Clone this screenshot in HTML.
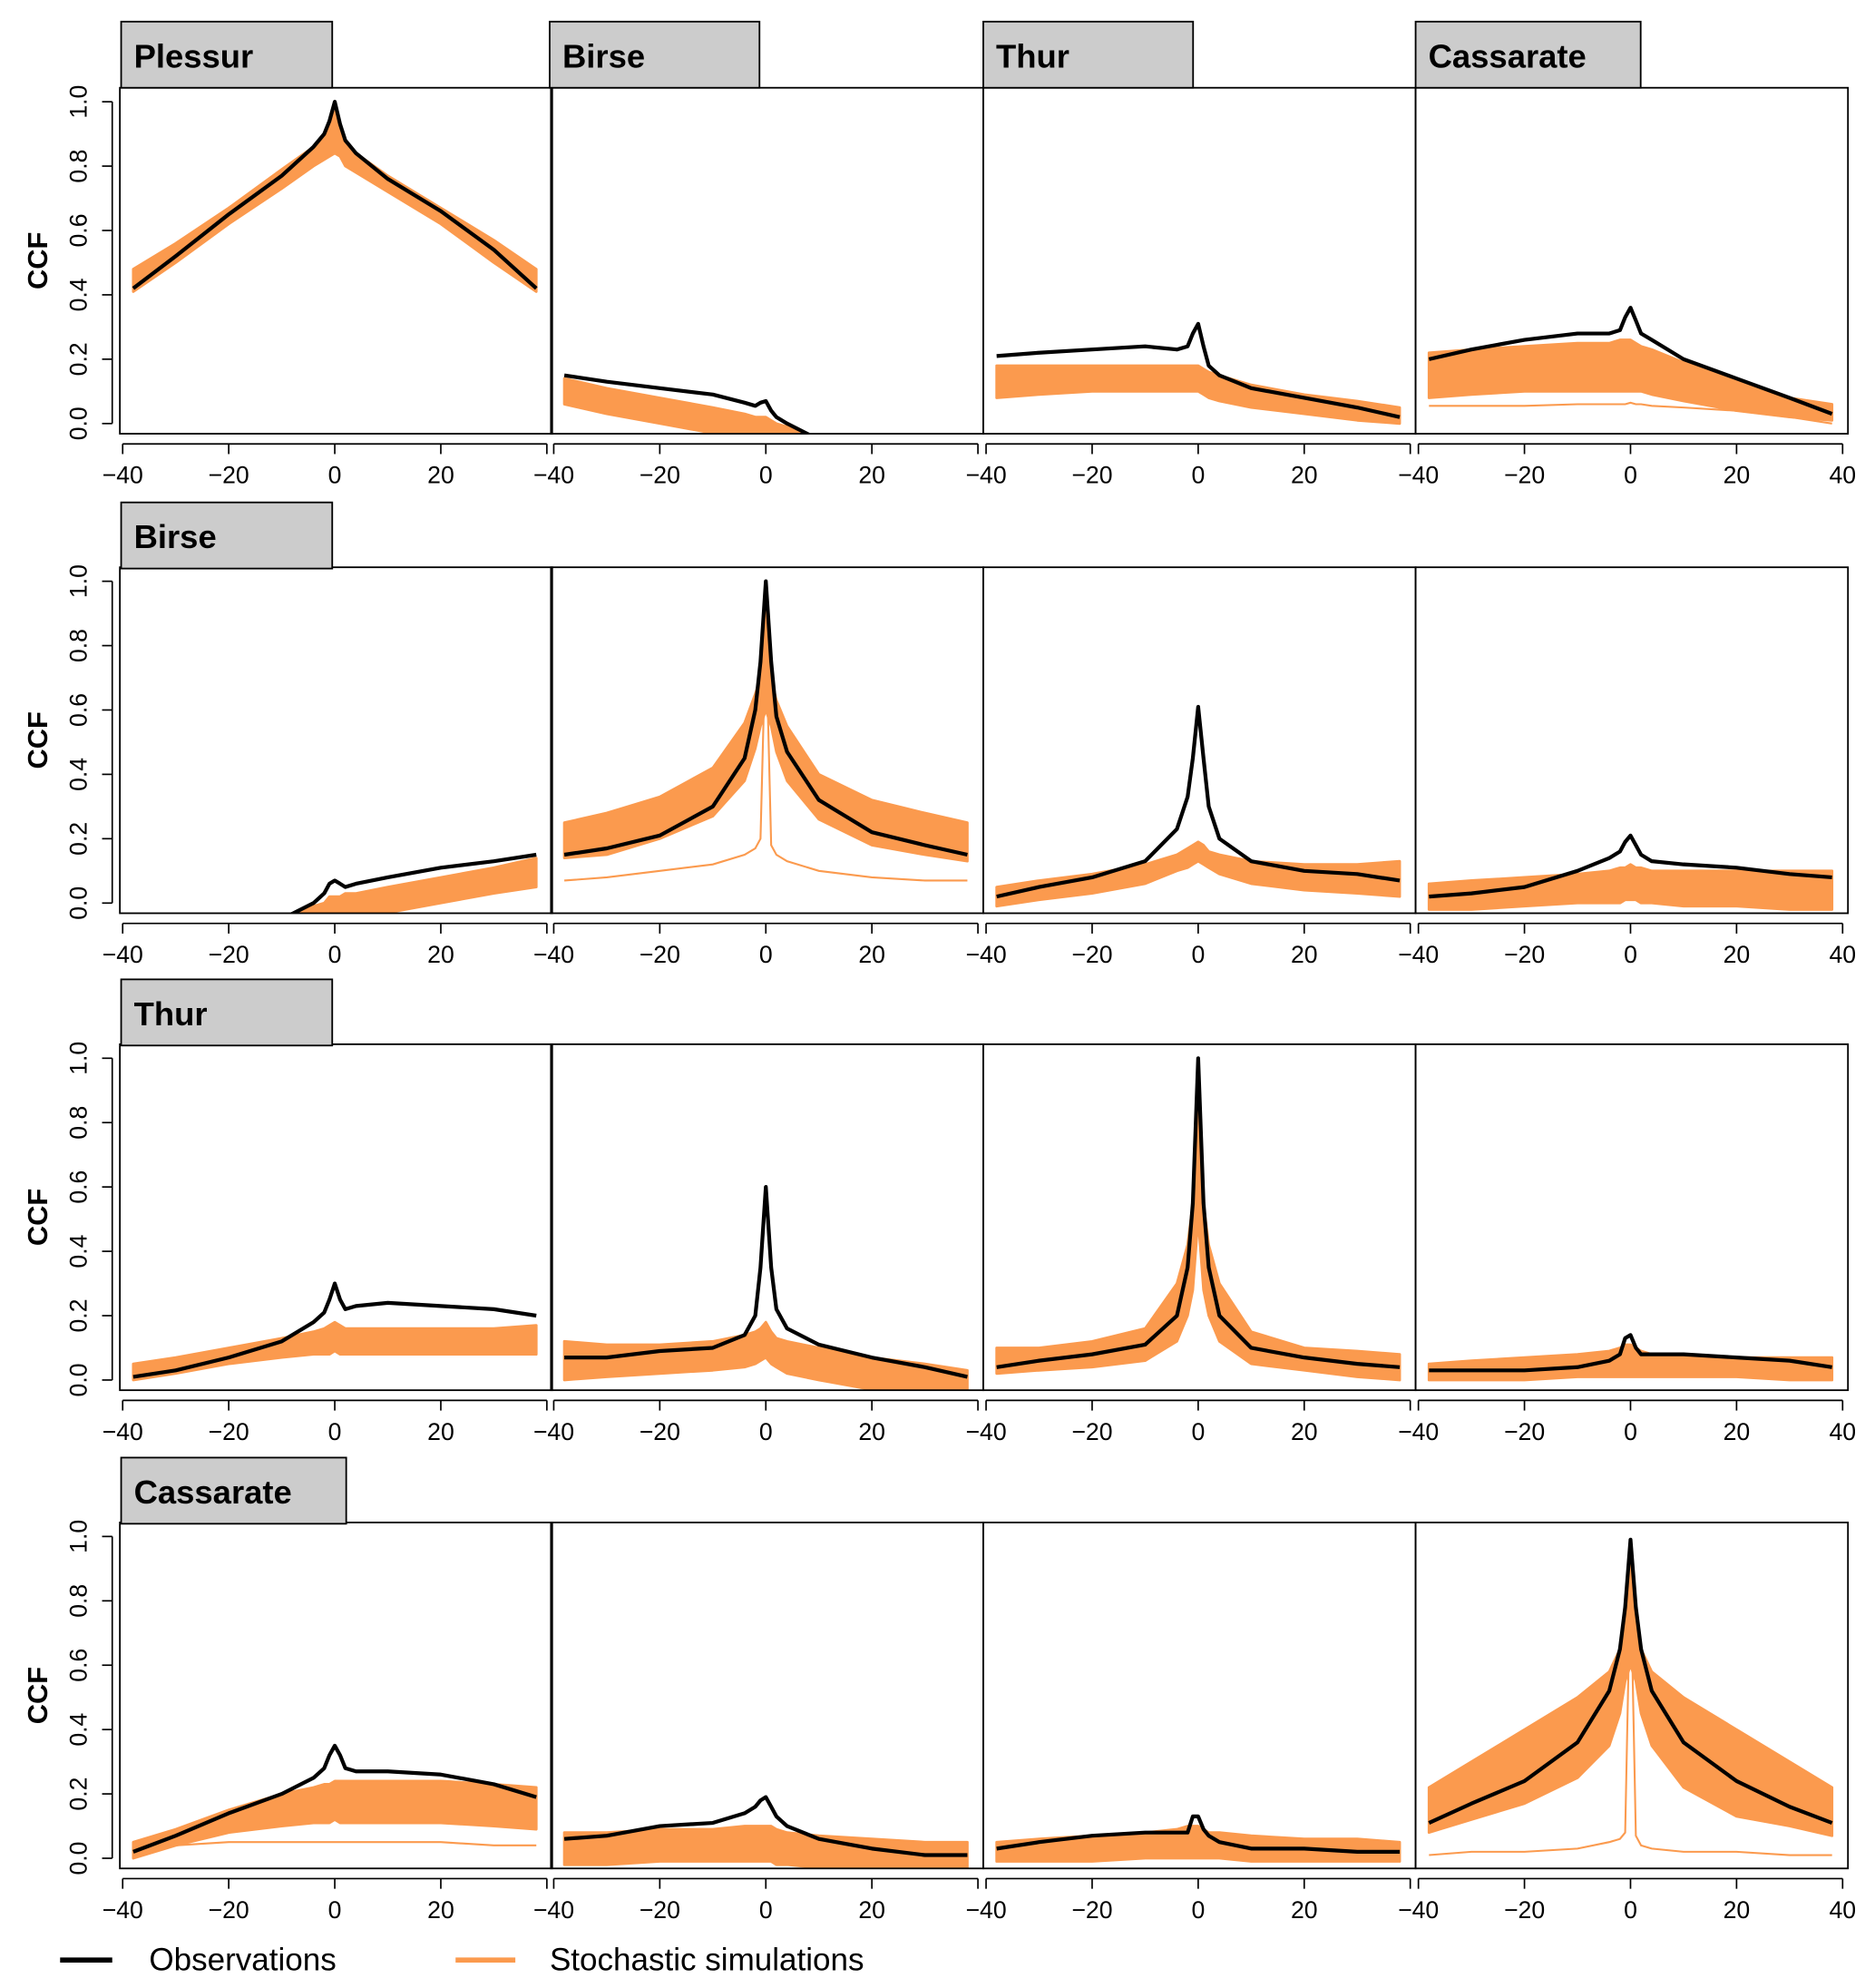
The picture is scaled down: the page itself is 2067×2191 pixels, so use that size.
<!DOCTYPE html>
<html><head><meta charset="utf-8"><style>
html,body{margin:0;padding:0;background:#fff}
svg{display:block}
text{font-family:"Liberation Sans",sans-serif}
</style></head><body>
<svg id="chart" width="2067" height="2191" viewBox="0 0 1474 1563" xmlns="http://www.w3.org/2000/svg"></svg>
<script>
const lags=[-38,-30,-20,-10,-4,-2,-1,0,1,2,4,10,20,30,38];
const stations=["Plessur","Birse","Thur","Cassarate"];
const xTicks=[-40,-20,0,20,40];
const yTicks=[0,0.2,0.4,0.6,0.8,1.0];
const yTickLabels=["0.0","0.2","0.4","0.6","0.8","1.0"];
const obs11=[0.42,0.52,0.65,0.77,0.86,0.9,0.94,1.0,0.93,0.88,0.84,0.76,0.66,0.54,0.42];
const lo11=[0.41,0.5,0.62,0.73,0.8,0.82,0.83,0.84,0.83,0.8,0.78,0.72,0.62,0.5,0.41];
const hi11=[0.48,0.56,0.67,0.79,0.86,0.9,0.93,0.97,0.93,0.88,0.84,0.77,0.67,0.57,0.48];
const obs12=[0.15,0.13,0.11,0.09,0.065,0.055,0.065,0.07,0.04,0.02,0.0,-0.05,-0.12,-0.18,-0.22];
const lo12=[0.06,0.03,0.0,-0.03,-0.05,-0.05,-0.05,-0.05,-0.06,-0.07,-0.08,-0.12,-0.18,-0.24,-0.28];
const hi12=[0.14,0.11,0.08,0.05,0.03,0.02,0.02,0.02,0.01,0.0,-0.01,-0.05,-0.1,-0.16,-0.2];
const obs13=[0.21,0.22,0.23,0.24,0.23,0.24,0.28,0.31,0.24,0.18,0.15,0.11,0.08,0.05,0.02];
const lo13=[0.08,0.09,0.1,0.1,0.1,0.1,0.1,0.1,0.09,0.08,0.07,0.05,0.03,0.01,0.0];
const hi13=[0.18,0.18,0.18,0.18,0.18,0.18,0.18,0.18,0.17,0.16,0.15,0.12,0.09,0.07,0.05];
const obs14=[0.2,0.23,0.26,0.28,0.28,0.29,0.33,0.36,0.32,0.28,0.26,0.2,0.14,0.08,0.03];
const lo14=[0.08,0.09,0.1,0.1,0.1,0.1,0.1,0.1,0.1,0.1,0.09,0.07,0.04,0.02,0.01];
const hi14=[0.22,0.23,0.24,0.25,0.25,0.26,0.26,0.26,0.25,0.24,0.23,0.19,0.13,0.08,0.06];
const out14=[0.055,0.055,0.055,0.06,0.06,0.06,0.06,0.065,0.06,0.06,0.055,0.05,0.04,0.02,0.0];
const obs21=[-0.22,-0.18,-0.12,-0.05,0.0,0.03,0.06,0.07,0.06,0.05,0.06,0.08,0.11,0.13,0.15];
const lo21=[-0.3,-0.25,-0.18,-0.12,-0.08,-0.07,-0.06,-0.06,-0.05,-0.05,-0.05,-0.03,0.0,0.03,0.05];
const hi21=[-0.2,-0.16,-0.1,-0.05,-0.01,0.0,0.02,0.02,0.02,0.03,0.03,0.05,0.08,0.11,0.14];
const obs22=[0.15,0.17,0.21,0.3,0.45,0.6,0.75,1.0,0.75,0.58,0.47,0.32,0.22,0.18,0.15];
const lo22=[0.14,0.15,0.2,0.27,0.38,0.48,0.55,0.6,0.55,0.47,0.38,0.26,0.18,0.15,0.13];
const hi22=[0.25,0.28,0.33,0.42,0.56,0.65,0.7,0.95,0.7,0.63,0.55,0.4,0.32,0.28,0.25];
const out22=[0.07,0.08,0.1,0.12,0.15,0.17,0.2,0.85,0.18,0.15,0.13,0.1,0.08,0.07,0.07];
const obs23=[0.02,0.05,0.08,0.13,0.23,0.33,0.45,0.61,0.45,0.3,0.2,0.13,0.1,0.09,0.07];
const lo23=[-0.01,0.01,0.03,0.06,0.1,0.11,0.12,0.13,0.12,0.11,0.09,0.06,0.04,0.03,0.02];
const hi23=[0.05,0.07,0.09,0.12,0.15,0.17,0.18,0.19,0.18,0.16,0.15,0.13,0.12,0.12,0.13];
const obs24=[0.02,0.03,0.05,0.1,0.14,0.16,0.19,0.21,0.18,0.15,0.13,0.12,0.11,0.09,0.08];
const lo24=[-0.02,-0.02,-0.01,0.0,0.0,0.0,0.01,0.01,0.01,0.0,0.0,-0.01,-0.01,-0.02,-0.02];
const hi24=[0.06,0.07,0.08,0.09,0.1,0.11,0.11,0.12,0.11,0.11,0.1,0.1,0.1,0.1,0.1];
const obs31=[0.01,0.03,0.07,0.12,0.18,0.21,0.25,0.3,0.25,0.22,0.23,0.24,0.23,0.22,0.2];
const lo31=[0.0,0.02,0.05,0.07,0.08,0.08,0.08,0.09,0.08,0.08,0.08,0.08,0.08,0.08,0.08];
const hi31=[0.05,0.07,0.1,0.13,0.15,0.16,0.17,0.18,0.17,0.16,0.16,0.16,0.16,0.16,0.17];
const obs32=[0.07,0.07,0.09,0.1,0.14,0.2,0.35,0.6,0.35,0.22,0.16,0.11,0.07,0.04,0.01];
const lo32=[0.0,0.01,0.02,0.03,0.04,0.05,0.06,0.07,0.05,0.04,0.02,0.0,-0.03,-0.05,-0.07];
const hi32=[0.12,0.11,0.11,0.12,0.14,0.15,0.16,0.18,0.15,0.13,0.12,0.1,0.07,0.05,0.03];
const obs33=[0.04,0.06,0.08,0.11,0.2,0.35,0.55,1.0,0.55,0.35,0.2,0.1,0.07,0.05,0.04];
const lo33=[0.02,0.03,0.04,0.06,0.12,0.2,0.28,0.5,0.28,0.2,0.12,0.05,0.03,0.01,0.0];
const hi33=[0.1,0.1,0.12,0.16,0.3,0.42,0.55,0.95,0.55,0.42,0.3,0.15,0.1,0.09,0.08];
const obs34=[0.03,0.03,0.03,0.04,0.06,0.08,0.13,0.14,0.1,0.08,0.08,0.08,0.07,0.06,0.04];
const lo34=[0.0,0.0,0.0,0.01,0.01,0.01,0.01,0.01,0.01,0.01,0.01,0.01,0.01,0.0,0.0];
const hi34=[0.05,0.06,0.07,0.08,0.09,0.1,0.11,0.11,0.1,0.09,0.08,0.08,0.07,0.07,0.07];
const obs41=[0.02,0.07,0.14,0.2,0.25,0.28,0.32,0.35,0.32,0.28,0.27,0.27,0.26,0.23,0.19];
const lo41=[0.0,0.04,0.08,0.1,0.11,0.11,0.11,0.12,0.11,0.11,0.11,0.11,0.11,0.1,0.09];
const hi41=[0.05,0.09,0.15,0.2,0.22,0.23,0.23,0.24,0.24,0.24,0.24,0.24,0.24,0.23,0.22];
const out41=[0.04,0.04,0.05,0.05,0.05,0.05,0.05,0.05,0.05,0.05,0.05,0.05,0.05,0.04,0.04];
const obs42=[0.06,0.07,0.1,0.11,0.14,0.16,0.18,0.19,0.16,0.13,0.1,0.06,0.03,0.01,0.01];
const lo42=[-0.02,-0.02,-0.01,-0.01,-0.01,-0.01,-0.01,-0.01,-0.01,-0.02,-0.02,-0.03,-0.04,-0.05,-0.05];
const hi42=[0.08,0.08,0.09,0.09,0.1,0.1,0.1,0.1,0.1,0.09,0.08,0.07,0.06,0.05,0.05];
const obs43=[0.03,0.05,0.07,0.08,0.08,0.08,0.13,0.13,0.09,0.07,0.05,0.03,0.03,0.02,0.02];
const lo43=[-0.01,-0.01,-0.01,0.0,0.0,0.0,0.0,0.0,0.0,0.0,0.0,-0.01,-0.01,-0.01,-0.01];
const hi43=[0.05,0.06,0.07,0.08,0.09,0.1,0.1,0.1,0.09,0.08,0.08,0.07,0.06,0.06,0.05];
const obs44=[0.11,0.17,0.24,0.36,0.52,0.65,0.78,0.99,0.78,0.65,0.52,0.36,0.24,0.16,0.11];
const lo44=[0.08,0.12,0.17,0.25,0.35,0.45,0.55,0.6,0.55,0.45,0.35,0.22,0.13,0.1,0.07];
const hi44=[0.22,0.3,0.4,0.5,0.58,0.65,0.72,0.92,0.72,0.65,0.58,0.5,0.4,0.3,0.22];
const out44=[0.01,0.02,0.02,0.03,0.05,0.06,0.08,0.9,0.07,0.04,0.03,0.02,0.02,0.01,0.01];

const panels=[
 [[obs11,lo11,hi11,null],[obs12,lo12,hi12,null],[obs13,lo13,hi13,null],[obs14,lo14,hi14,out14]],
 [[obs21,lo21,hi21,null],[obs22,lo22,hi22,out22],[obs23,lo23,hi23,null],[obs24,lo24,hi24,null]],
 [[obs31,lo31,hi31,null],[obs32,lo32,hi32,null],[obs33,lo33,hi33,null],[obs34,lo34,hi34,null]],
 [[obs41,lo41,hi41,out41],[obs42,lo42,hi42,null],[obs43,lo43,hi43,null],[obs44,lo44,hi44,out44]]
];
const NS="http://www.w3.org/2000/svg";
const svg=document.getElementById('chart');
function mk(tag,attrs,parent){const e=document.createElementNS(NS,tag);for(const k in attrs)e.setAttribute(k,attrs[k]);(parent||svg).appendChild(e);return e;}
const colX=[94,433,773,1113], panelW=340;
const rowY=[69,446,821,1197], panelH=272;
const ORANGE="#fb9a4e";
const defs=mk('defs',{});
for(let r=0;r<4;r++){
 const top=rowY[r];
 const yS=v=>top+264-v*253;
 const ya=mk('g',{});
 
 
 mk('line',{x1:88,x2:88,y1:yS(0),y2:yS(1),stroke:'#000','stroke-width':1.2},ya);
 yTicks.forEach((t,i)=>{
  const y=yS(t);
  mk('line',{x1:80,x2:88,y1:y,y2:y,stroke:'#000','stroke-width':1.2},ya);
  const tx=mk('text',{x:0,y:0,transform:`translate(68,${y}) rotate(-90)`,'text-anchor':'middle','font-size':19},ya);
  tx.textContent=yTickLabels[i];
 });
 const yl=mk('text',{transform:`translate(37,${top+panelH/2}) rotate(-90)`,'text-anchor':'middle','font-size':22,'font-weight':'bold'});
 
 
 yl.textContent='CCF';
 for(let c=0;c<4;c++){
  const left=colX[c];
  const xS=v=>left+169+v*4.17;
  const [obs,lo,hi,out]=panels[r][c];
  const g=mk('g',{});
  
  
  const cid='clip'+r+c;
  const cp=mk('clipPath',{id:cid},defs);
  mk('rect',{x:left,y:top,width:panelW,height:panelH},cp);
  const inner=mk('g',{'clip-path':`url(#${cid})`},g);
  let d='';
  lags.forEach((l,i)=>{d+=(i?'L':'M')+xS(l).toFixed(1)+' '+yS(hi[i]).toFixed(1);});
  for(let i=lags.length-1;i>=0;i--)d+='L'+xS(lags[i]).toFixed(1)+' '+yS(lo[i]).toFixed(1);
  const band=mk('path',{d:d+'Z',fill:ORANGE,stroke:ORANGE,'stroke-width':2,'stroke-linejoin':'round'},inner);
  
  
  if(out){
   const od=lags.map((l,i)=>(i?'L':'M')+xS(l).toFixed(1)+' '+yS(out[i]).toFixed(1)).join('');
   const ol=mk('path',{d:od,fill:'none',stroke:ORANGE,'stroke-width':1.5},inner);
   
   
  }
  const pd=lags.map((l,i)=>(i?'L':'M')+xS(l).toFixed(1)+' '+yS(obs[i]).toFixed(1)).join('');
  const pl=mk('path',{d:pd,fill:'none',stroke:'#000','stroke-width':3,'stroke-linejoin':'round'},inner);
  
  
  mk('rect',{x:left,y:top,width:panelW,height:panelH,fill:'none',stroke:'#000','stroke-width':1.3},g);
  const xa=mk('g',{},g);
  
  
  const yb=top+panelH+8;
  mk('line',{x1:xS(-40),x2:xS(40),y1:yb,y2:yb,stroke:'#000','stroke-width':1.2},xa);
  xTicks.forEach(t=>{
   mk('line',{x1:xS(t),x2:xS(t),y1:yb,y2:yb+8,stroke:'#000','stroke-width':1.2},xa);
   if(t===40&&c<3)return;
   const tx=mk('text',{x:xS(t),y:yb+31,'text-anchor':'middle','font-size':19},xa);
   tx.textContent=String(t).replace('-','\u2212');
  });
 }
}
function strip(x,y,w,label){
 const g=mk('g',{});
 
 
 mk('rect',{x:x,y:y,width:w,height:52,fill:'#cccccc',stroke:'#000','stroke-width':1.3},g);
 const t=mk('text',{x:x+10,y:y+36,'font-size':26,'font-weight':'bold'},g);
 t.textContent=label;
}
strip(95,17,166,'Plessur');strip(432,17,165,'Birse');strip(773,17,165,'Thur');strip(1113,17,177,'Cassarate');
strip(95,395,166,'Birse');strip(95,770,166,'Thur');strip(95,1146,177,'Cassarate');
const lg=mk('g',{});


const l1=mk('g',{},lg);


mk('line',{x1:47,x2:88,y1:1541,y2:1541,stroke:'#000','stroke-width':4},l1);
mk('text',{x:117,y:1549,'font-size':25},l1).textContent='Observations';
const l2=mk('g',{},lg);


mk('line',{x1:358,x2:405,y1:1541,y2:1541,stroke:ORANGE,'stroke-width':4},l2);
mk('text',{x:432,y:1549,'font-size':25},l2).textContent='Stochastic simulations';
</script>
</body></html>
